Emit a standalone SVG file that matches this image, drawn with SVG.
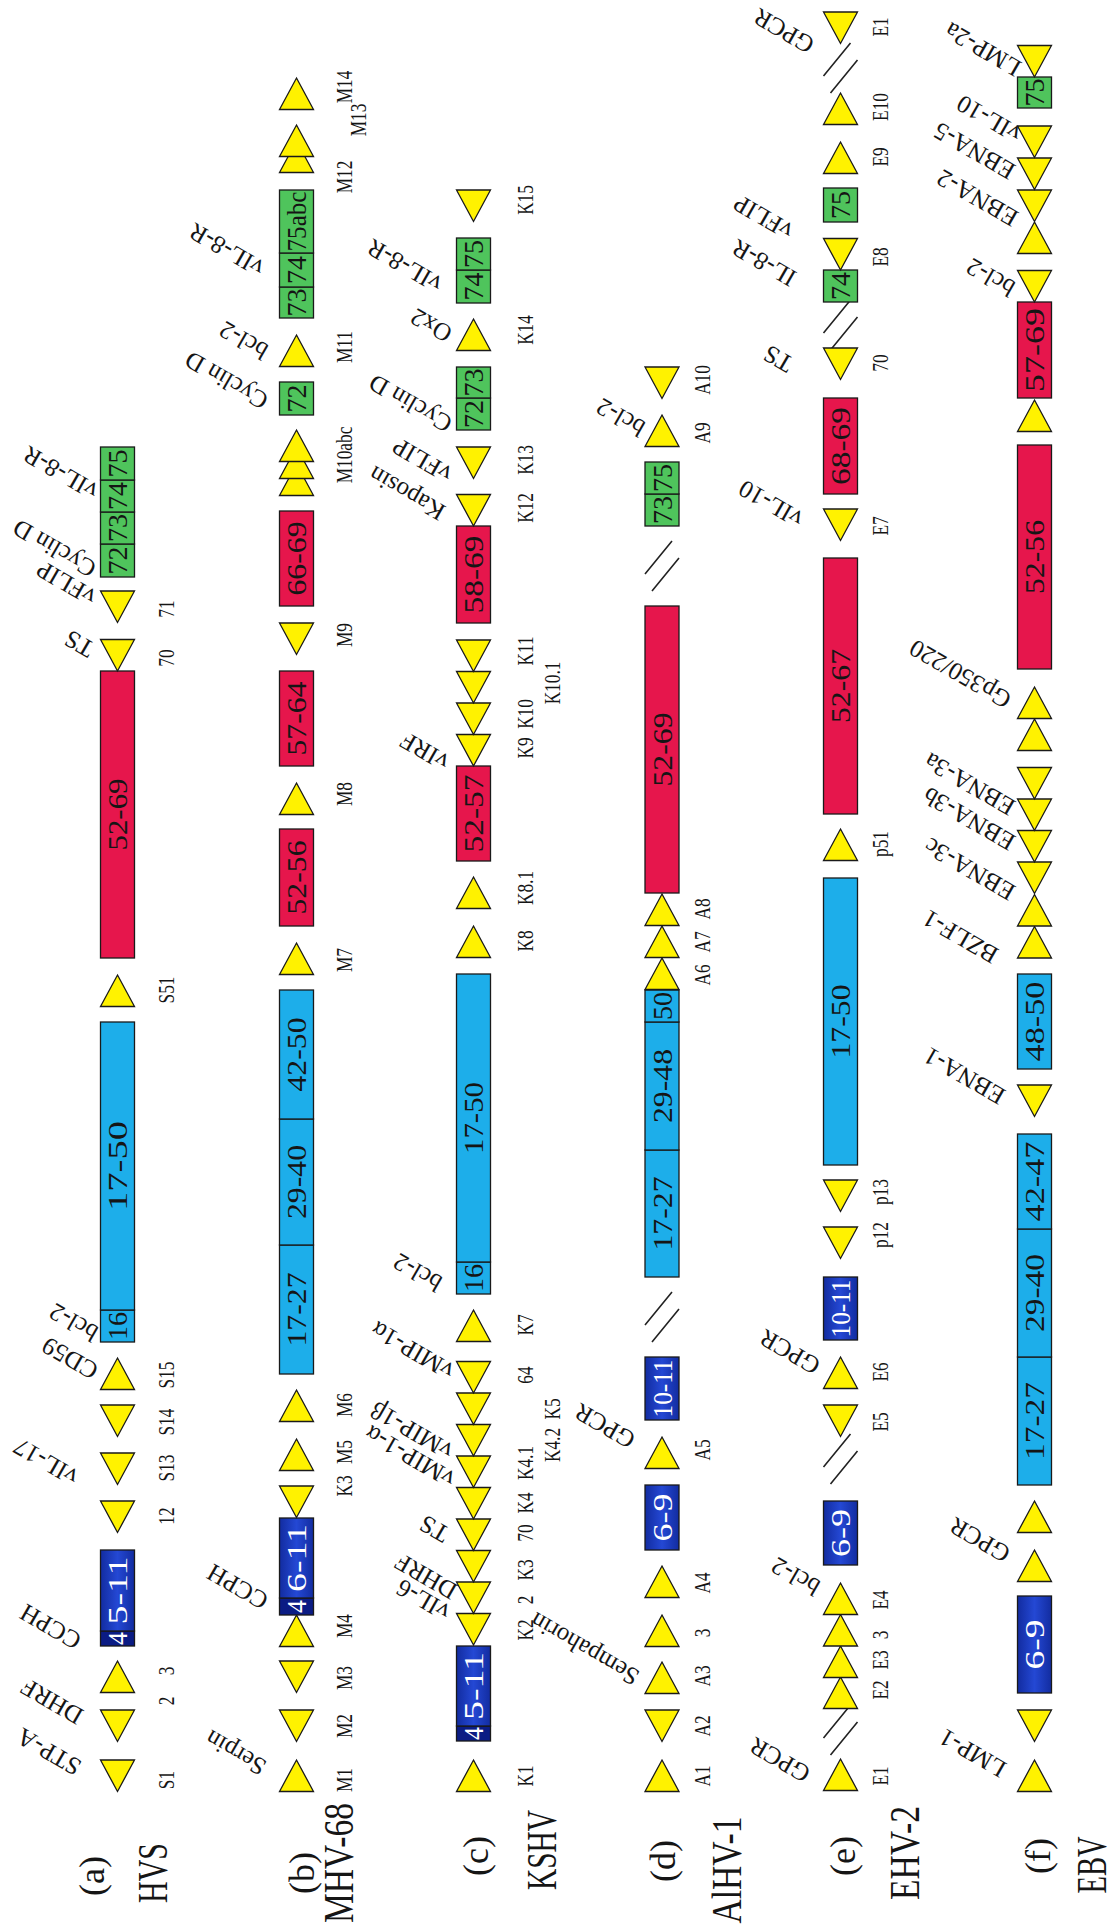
<svg xmlns="http://www.w3.org/2000/svg" width="1112" height="1925" viewBox="0 0 1112 1925">
<defs>
<style>
text{font-family:"Liberation Serif","Times New Roman",serif;fill:#151515}
.s{font-size:24px;text-anchor:middle}
.g{font-size:25px}
.b{font-size:28px;text-anchor:middle}
.w{fill:#ffffff}
.n{font-size:42px;text-anchor:middle}
.p{font-size:36px;text-anchor:middle}
.tri{fill:#FFF200;stroke:#1a1a1a;stroke-width:1.3;stroke-linejoin:miter}
.r{fill:#E6164C;stroke:#1a1a1a;stroke-width:1.3}
.c{fill:#1DAEEA;stroke:#1a1a1a;stroke-width:1.3}
.gr{fill:#4FC45C;stroke:#1a1a1a;stroke-width:1.3}
.d{fill:url(#gd);stroke:#1a1a1a;stroke-width:1.3}
.dn{fill:#0B1C84;stroke:#1a1a1a;stroke-width:1.3}
.brk{stroke:#222;stroke-width:1.6;fill:none}
</style>
<linearGradient id="gd" x1="0" y1="0" x2="1" y2="0">
<stop offset="0" stop-color="#122CA0"/><stop offset="0.5" stop-color="#2448D4"/><stop offset="1" stop-color="#122CA0"/>
</linearGradient>
<polygon id="U" class="tri" points="0,0 17,31.5 -17,31.5"/>
<polygon id="D" class="tri" points="-17,0 17,0 0,31.5"/>
</defs>
<rect width="1112" height="1925" fill="#ffffff"/>

<g id="row-labels">
<text class="p" transform="translate(104,1876) rotate(-90)">(a)</text>
<text class="n" transform="translate(167,1873) rotate(-90)" textLength="60" lengthAdjust="spacingAndGlyphs">HVS</text>
<text class="p" transform="translate(314,1873) rotate(-90)">(b)</text>
<text class="n" transform="translate(353,1863) rotate(-90)" textLength="120" lengthAdjust="spacingAndGlyphs">MHV-68</text>
<text class="p" transform="translate(488,1856) rotate(-90)">(c)</text>
<text class="n" transform="translate(556,1850) rotate(-90)" textLength="80" lengthAdjust="spacingAndGlyphs">KSHV</text>
<text class="p" transform="translate(675,1861) rotate(-90)">(d)</text>
<text class="n" transform="translate(741,1870) rotate(-90)" textLength="107" lengthAdjust="spacingAndGlyphs">AlHV-1</text>
<text class="p" transform="translate(855,1856) rotate(-90)">(e)</text>
<text class="n" transform="translate(919,1853) rotate(-90)" textLength="94" lengthAdjust="spacingAndGlyphs">EHV-2</text>
<text class="p" transform="translate(1050,1856) rotate(-90)">(f)</text>
<text class="n" transform="translate(1106,1865) rotate(-90)" textLength="57" lengthAdjust="spacingAndGlyphs">EBV</text>
</g>

<g id="breaks">
<path class="brk" d="M645,1325 L672,1292 M652,1342 L679,1309"/>
<path class="brk" d="M645,574 L672,541 M652,591 L679,558"/>
<path class="brk" d="M823.5,1738 L850.5,1705 M830.5,1755 L857.5,1722"/>
<path class="brk" d="M823.5,1467 L850.5,1434 M830.5,1484 L857.5,1451"/>
<path class="brk" d="M823.5,333 L850.5,300 M830.5,350 L857.5,317"/>
<path class="brk" d="M823.5,76 L850.5,43 M830.5,93 L857.5,60"/>
</g>

<!-- Row (a) HVS -->
<g id="row-a">
<g id="a-S1"><use href="#D" x="117.5" y="1760"/><text class="s" transform="translate(174,1780) rotate(-90) scale(0.72,1)">S1</text><text class="g" transform="translate(83,1762) rotate(-150)">STP-A</text></g>
<g id="a-2"><use href="#D" x="117.5" y="1710"/><text class="s" transform="translate(174,1701) rotate(-90) scale(0.72,1)">2</text><text class="g" transform="translate(85,1711) rotate(-150)">DHRF</text></g>
<g id="a-3"><use href="#U" x="117.5" y="1661"/><text class="s" transform="translate(174,1671) rotate(-90) scale(0.72,1)">3</text></g>
<g id="a-4-11"><rect class="dn" x="100.5" y="1631" width="34" height="15"/><rect class="d" x="100.5" y="1550" width="34" height="81"/><text class="b w" transform="translate(127,1638.5) rotate(-90)" textLength="13" lengthAdjust="spacingAndGlyphs">4</text><text class="b w" transform="translate(127,1590.5) rotate(-90)" textLength="68" lengthAdjust="spacingAndGlyphs">5-11</text><text class="g" transform="translate(83,1636) rotate(-150)">CCPH</text></g>
<g id="a-12"><use href="#D" x="117.5" y="1501"/><text class="s" transform="translate(174,1516) rotate(-90) scale(0.72,1)">12</text></g>
<g id="a-S13"><use href="#D" x="117.5" y="1453"/><text class="s" transform="translate(174,1468) rotate(-90) scale(0.72,1)">S13</text><text class="g" transform="translate(80,1472) rotate(-150)">vIL-17</text></g>
<g id="a-S14"><use href="#D" x="117.5" y="1405"/><text class="s" transform="translate(174,1422) rotate(-90) scale(0.72,1)">S14</text></g>
<g id="a-S15"><use href="#U" x="117.5" y="1358"/><text class="s" transform="translate(174,1375) rotate(-90) scale(0.72,1)">S15</text><text class="g" transform="translate(100,1366) rotate(-150)">CD59</text></g>
<g id="a-16-50"><rect class="c" x="100.5" y="1310" width="34" height="32"/><rect class="c" x="100.5" y="1022" width="34" height="288"/><text class="b" transform="translate(127,1326) rotate(-90)" textLength="28" lengthAdjust="spacingAndGlyphs">16</text><text class="b" transform="translate(127,1166) rotate(-90)" textLength="90" lengthAdjust="spacingAndGlyphs">17-50</text><text class="g" transform="translate(100,1328) rotate(-150)">bcl-2</text></g>
<g id="a-S51"><use href="#U" x="117.5" y="975"/><text class="s" transform="translate(174,990) rotate(-90) scale(0.72,1)">S51</text></g>
<g id="a-52-69"><rect class="r" x="100.5" y="671" width="34" height="287"/><text class="b" transform="translate(127,814.5) rotate(-90)" textLength="72" lengthAdjust="spacingAndGlyphs">52-69</text></g>
<g id="a-70"><use href="#D" x="117.5" y="639.5"/><text class="s" transform="translate(174,658) rotate(-90) scale(0.72,1)">70</text><text class="g" transform="translate(96,644) rotate(-150)">TS</text></g>
<g id="a-71"><use href="#D" x="117.5" y="591"/><text class="s" transform="translate(174,609) rotate(-90) scale(0.72,1)">71</text><text class="g" transform="translate(98,592) rotate(-150)">vFLIP</text></g>
<g id="a-72-75"><rect class="gr" x="100.5" y="544" width="34" height="33"/><rect class="gr" x="100.5" y="512" width="34" height="32"/><rect class="gr" x="100.5" y="480" width="34" height="32"/><rect class="gr" x="100.5" y="447" width="34" height="33"/>
<text class="b" transform="translate(127,560.5) rotate(-90)" textLength="28" lengthAdjust="spacingAndGlyphs">72</text><text class="b" transform="translate(127,528) rotate(-90)" textLength="28" lengthAdjust="spacingAndGlyphs">73</text><text class="b" transform="translate(127,496) rotate(-90)" textLength="28" lengthAdjust="spacingAndGlyphs">74</text><text class="b" transform="translate(127,463.5) rotate(-90)" textLength="28" lengthAdjust="spacingAndGlyphs">75</text>
<text class="g" transform="translate(98,564) rotate(-150)">Cyclin D</text><text class="g" transform="translate(100,486) rotate(-150)">vIL-8-R</text></g>
</g>

<!-- Row (b) MHV-68 -->
<g id="row-b">
<g id="b-M1"><use href="#U" x="296.5" y="1760"/><text class="s" transform="translate(352,1780) rotate(-90) scale(0.72,1)">M1</text><text class="g" transform="translate(268,1762) rotate(-150)">Serpin</text></g>
<g id="b-M2"><use href="#D" x="296.5" y="1710"/><text class="s" transform="translate(352,1726) rotate(-90) scale(0.72,1)">M2</text></g>
<g id="b-M3"><use href="#D" x="296.5" y="1661"/><text class="s" transform="translate(352,1678) rotate(-90) scale(0.72,1)">M3</text></g>
<g id="b-M4"><use href="#U" x="296.5" y="1615"/><text class="s" transform="translate(352,1626) rotate(-90) scale(0.72,1)">M4</text></g>
<g id="b-4-11"><rect class="dn" x="279.5" y="1598" width="34" height="17"/><rect class="d" x="279.5" y="1518" width="34" height="80"/><text class="b w" transform="translate(306,1606.5) rotate(-90)" textLength="13" lengthAdjust="spacingAndGlyphs">4</text><text class="b w" transform="translate(306,1558) rotate(-90)" textLength="68" lengthAdjust="spacingAndGlyphs">6-11</text><text class="g" transform="translate(270,1596) rotate(-150)">CCPH</text></g>
<g id="b-K3"><use href="#D" x="296.5" y="1486"/><text class="s" transform="translate(352,1486) rotate(-90) scale(0.72,1)">K3</text></g>
<g id="b-M5"><use href="#U" x="296.5" y="1439"/><text class="s" transform="translate(352,1452) rotate(-90) scale(0.72,1)">M5</text></g>
<g id="b-M6"><use href="#U" x="296.5" y="1390"/><text class="s" transform="translate(352,1405) rotate(-90) scale(0.72,1)">M6</text></g>
<g id="b-17-50"><rect class="c" x="279.5" y="1245" width="34" height="129"/><rect class="c" x="279.5" y="1119" width="34" height="126"/><rect class="c" x="279.5" y="990" width="34" height="129"/>
<text class="b" transform="translate(306,1309.5) rotate(-90)" textLength="74" lengthAdjust="spacingAndGlyphs">17-27</text><text class="b" transform="translate(306,1182) rotate(-90)" textLength="74" lengthAdjust="spacingAndGlyphs">29-40</text><text class="b" transform="translate(306,1054.5) rotate(-90)" textLength="74" lengthAdjust="spacingAndGlyphs">42-50</text></g>
<g id="b-M7"><use href="#U" x="296.5" y="943"/><text class="s" transform="translate(352,960) rotate(-90) scale(0.72,1)">M7</text></g>
<g id="b-52-56"><rect class="r" x="279.5" y="829" width="34" height="97"/><text class="b" transform="translate(306,877.5) rotate(-90)" textLength="74" lengthAdjust="spacingAndGlyphs">52-56</text></g>
<g id="b-M8"><use href="#U" x="296.5" y="783"/><text class="s" transform="translate(352,794) rotate(-90) scale(0.72,1)">M8</text></g>
<g id="b-57-64"><rect class="r" x="279.5" y="671" width="34" height="95"/><text class="b" transform="translate(306,718.5) rotate(-90)" textLength="74" lengthAdjust="spacingAndGlyphs">57-64</text></g>
<g id="b-M9"><use href="#D" x="296.5" y="623"/><text class="s" transform="translate(352,635) rotate(-90) scale(0.72,1)">M9</text></g>
<g id="b-66-69"><rect class="r" x="279.5" y="511" width="34" height="95"/><text class="b" transform="translate(306,558.5) rotate(-90)" textLength="74" lengthAdjust="spacingAndGlyphs">66-69</text></g>
<g id="b-M10abc"><use href="#U" x="296.5" y="464"/><use href="#U" x="296.5" y="447"/><use href="#U" x="296.5" y="430"/><text class="s" transform="translate(352,455) rotate(-90) scale(0.72,1)">M10abc</text></g>
<g id="b-72"><rect class="gr" x="279.5" y="382" width="34" height="33"/><text class="b" transform="translate(306,398.5) rotate(-90)" textLength="28" lengthAdjust="spacingAndGlyphs">72</text><text class="g" transform="translate(270,396) rotate(-150)">Cyclin D</text></g>
<g id="b-M11"><use href="#U" x="296.5" y="335"/><text class="s" transform="translate(352,347) rotate(-90) scale(0.72,1)">M11</text><text class="g" transform="translate(270,346) rotate(-150)">bcl-2</text></g>
<g id="b-73-75"><rect class="gr" x="279.5" y="287" width="34" height="31"/><rect class="gr" x="279.5" y="253" width="34" height="34"/><rect class="gr" x="279.5" y="190" width="34" height="63"/>
<text class="b" transform="translate(306,302.5) rotate(-90)" textLength="28" lengthAdjust="spacingAndGlyphs">73</text><text class="b" transform="translate(306,270) rotate(-90)" textLength="28" lengthAdjust="spacingAndGlyphs">74</text><text class="b" transform="translate(306,221.5) rotate(-90)" textLength="60" lengthAdjust="spacingAndGlyphs">75abc</text>
<text class="g" transform="translate(266,263) rotate(-150)">vIL-8-R</text></g>
<g id="b-M12-M13"><use href="#U" x="296.5" y="141"/><use href="#U" x="296.5" y="125"/><text class="s" transform="translate(352,177) rotate(-90) scale(0.72,1)">M12</text><text class="s" transform="translate(366,120) rotate(-90) scale(0.72,1)">M13</text></g>
<g id="b-M14"><use href="#U" x="296.5" y="78"/><text class="s" transform="translate(352,87) rotate(-90) scale(0.72,1)">M14</text></g>
</g>

<!-- Row (c) KSHV -->
<g id="row-c">
<g id="c-K1"><use href="#U" x="473.5" y="1760"/><text class="s" transform="translate(533,1776) rotate(-90) scale(0.72,1)">K1</text></g>
<g id="c-4-11"><rect class="dn" x="456.5" y="1726" width="34" height="15"/><rect class="d" x="456.5" y="1646" width="34" height="80"/><text class="b w" transform="translate(483,1733.5) rotate(-90)" textLength="13" lengthAdjust="spacingAndGlyphs">4</text><text class="b w" transform="translate(483,1686) rotate(-90)" textLength="68" lengthAdjust="spacingAndGlyphs">5-11</text></g>
<g id="c-K2"><use href="#D" x="473.5" y="1613.5"/><text class="s" transform="translate(533,1630) rotate(-90) scale(0.72,1)">K2</text><text class="g" transform="translate(452,1607) rotate(-150)">vIL-6</text></g>
<g id="c-2"><use href="#D" x="473.5" y="1582"/><text class="s" transform="translate(533,1600) rotate(-90) scale(0.72,1)">2</text><text class="g" transform="translate(459,1586) rotate(-150)">DHRF</text></g>
<g id="c-K3"><use href="#D" x="473.5" y="1550.5"/><text class="s" transform="translate(533,1570) rotate(-90) scale(0.72,1)">K3</text></g>
<g id="c-70"><use href="#D" x="473.5" y="1519"/><text class="s" transform="translate(533,1533) rotate(-90) scale(0.72,1)">70</text><text class="g" transform="translate(451,1529) rotate(-150)">TS</text></g>
<g id="c-K4"><use href="#D" x="473.5" y="1487.5"/><text class="s" transform="translate(533,1503) rotate(-90) scale(0.72,1)">K4</text><text class="g" transform="translate(457,1474) rotate(-150)">vMIP-1-α</text></g>
<g id="c-K4.1"><use href="#D" x="473.5" y="1456"/><text class="s" transform="translate(533,1463) rotate(-90) scale(0.72,1)">K4.1</text><text class="g" transform="translate(455,1446) rotate(-150)">vMIP-1β</text></g>
<g id="c-K4.2"><use href="#D" x="473.5" y="1424.5"/><text class="s" transform="translate(560,1445) rotate(-90) scale(0.72,1)">K4.2</text></g>
<g id="c-K5"><use href="#D" x="473.5" y="1393"/><text class="s" transform="translate(560,1409) rotate(-90) scale(0.72,1)">K5</text></g>
<g id="c-64"><use href="#D" x="473.5" y="1361.5"/><text class="s" transform="translate(533,1375) rotate(-90) scale(0.72,1)">64</text><text class="g" transform="translate(456,1366) rotate(-150)">vMIP-1α</text></g>
<g id="c-K7"><use href="#U" x="473.5" y="1310"/><text class="s" transform="translate(533,1325) rotate(-90) scale(0.72,1)">K7</text></g>
<g id="c-16-50"><rect class="c" x="456.5" y="1262" width="34" height="32"/><rect class="c" x="456.5" y="974" width="34" height="288"/><text class="b" transform="translate(483,1278) rotate(-90)" textLength="28" lengthAdjust="spacingAndGlyphs">16</text><text class="b" transform="translate(483,1118) rotate(-90)" textLength="72" lengthAdjust="spacingAndGlyphs">17-50</text><text class="g" transform="translate(444,1278) rotate(-150)">bcl-2</text></g>
<g id="c-K8"><use href="#U" x="473.5" y="926"/><text class="s" transform="translate(533,941) rotate(-90) scale(0.72,1)">K8</text></g>
<g id="c-K8.1"><use href="#U" x="473.5" y="877"/><text class="s" transform="translate(533,888) rotate(-90) scale(0.72,1)">K8.1</text></g>
<g id="c-52-57"><rect class="r" x="456.5" y="766" width="34" height="95"/><text class="b" transform="translate(483,813.5) rotate(-90)" textLength="78" lengthAdjust="spacingAndGlyphs">52-57</text></g>
<g id="c-K9"><use href="#D" x="473.5" y="734.5"/><text class="s" transform="translate(533,748) rotate(-90) scale(0.72,1)">K9</text><text class="g" transform="translate(451,757) rotate(-150)">vIRF</text></g>
<g id="c-K10"><use href="#D" x="473.5" y="703"/><text class="s" transform="translate(533,714) rotate(-90) scale(0.72,1)">K10</text></g>
<g id="c-K10.1"><use href="#D" x="473.5" y="671.5"/><text class="s" transform="translate(560,683) rotate(-90) scale(0.72,1)">K10.1</text></g>
<g id="c-K11"><use href="#D" x="473.5" y="640"/><text class="s" transform="translate(533,651) rotate(-90) scale(0.72,1)">K11</text></g>
<g id="c-58-69"><rect class="r" x="456.5" y="526" width="34" height="97"/><text class="b" transform="translate(483,574.5) rotate(-90)" textLength="78" lengthAdjust="spacingAndGlyphs">58-69</text></g>
<g id="c-K12"><use href="#D" x="473.5" y="494.5"/><text class="s" transform="translate(533,508) rotate(-90) scale(0.72,1)">K12</text><text class="g" transform="translate(447,507) rotate(-150)">Kaposin</text></g>
<g id="c-K13"><use href="#D" x="473.5" y="447"/><text class="s" transform="translate(533,460) rotate(-90) scale(0.72,1)">K13</text><text class="g" transform="translate(454,469) rotate(-150)">vFLIP</text></g>
<g id="c-72-73"><rect class="gr" x="456.5" y="398" width="34" height="32"/><rect class="gr" x="456.5" y="367" width="34" height="31"/><text class="b" transform="translate(483,414) rotate(-90)" textLength="28" lengthAdjust="spacingAndGlyphs">72</text><text class="b" transform="translate(483,382.5) rotate(-90)" textLength="28" lengthAdjust="spacingAndGlyphs">73</text><text class="g" transform="translate(454,419) rotate(-150)">Cyclin D</text></g>
<g id="c-K14"><use href="#U" x="473.5" y="319"/><text class="s" transform="translate(533,330) rotate(-90) scale(0.72,1)">K14</text><text class="g" transform="translate(454,329) rotate(-150)">Ox2</text></g>
<g id="c-74-75"><rect class="gr" x="456.5" y="270" width="34" height="33"/><rect class="gr" x="456.5" y="238" width="34" height="32"/><text class="b" transform="translate(483,286.5) rotate(-90)" textLength="28" lengthAdjust="spacingAndGlyphs">74</text><text class="b" transform="translate(483,254) rotate(-90)" textLength="28" lengthAdjust="spacingAndGlyphs">75</text><text class="g" transform="translate(444,279) rotate(-150)">vIL-8-R</text></g>
<g id="c-K15"><use href="#D" x="473.5" y="190"/><text class="s" transform="translate(533,200) rotate(-90) scale(0.72,1)">K15</text></g>
</g>

<!-- Row (d) AlHV-1 -->
<g id="row-d">
<g id="d-A1"><use href="#U" x="662" y="1760"/><text class="s" transform="translate(710,1776) rotate(-90) scale(0.72,1)">A1</text></g>
<g id="d-A2"><use href="#D" x="662" y="1710"/><text class="s" transform="translate(710,1726) rotate(-90) scale(0.72,1)">A2</text></g>
<g id="d-A3"><use href="#U" x="662" y="1662"/><text class="s" transform="translate(710,1676) rotate(-90) scale(0.72,1)">A3</text><text class="g" transform="translate(641,1672) rotate(-150)">Sempahorin</text></g>
<g id="d-3"><use href="#U" x="662" y="1615"/><text class="s" transform="translate(710,1633) rotate(-90) scale(0.72,1)">3</text></g>
<g id="d-A4"><use href="#U" x="662" y="1566"/><text class="s" transform="translate(710,1583) rotate(-90) scale(0.72,1)">A4</text></g>
<g id="d-6-9"><rect class="d" x="645" y="1485" width="34" height="65"/><text class="b w" transform="translate(671.5,1517.5) rotate(-90)" textLength="48" lengthAdjust="spacingAndGlyphs">6-9</text></g>
<g id="d-A5"><use href="#U" x="662" y="1437"/><text class="s" transform="translate(710,1450) rotate(-90) scale(0.72,1)">A5</text><text class="g" transform="translate(637,1435) rotate(-150)">GPCR</text></g>
<g id="d-10-11"><rect class="d" x="645" y="1357" width="34" height="63"/><text class="b w" transform="translate(671.5,1388.5) rotate(-90)" textLength="58" lengthAdjust="spacingAndGlyphs">10-11</text></g>
<g id="d-17-50"><rect class="c" x="645" y="1150" width="34" height="127"/><rect class="c" x="645" y="1022" width="34" height="128"/><rect class="c" x="645" y="990" width="34" height="32"/>
<text class="b" transform="translate(671.5,1213.5) rotate(-90)" textLength="74" lengthAdjust="spacingAndGlyphs">17-27</text><text class="b" transform="translate(671.5,1086) rotate(-90)" textLength="74" lengthAdjust="spacingAndGlyphs">29-48</text><text class="b" transform="translate(671.5,1006) rotate(-90)" textLength="28" lengthAdjust="spacingAndGlyphs">50</text></g>
<g id="d-A6-A8"><use href="#U" x="662" y="958"/><use href="#U" x="662" y="926"/><use href="#U" x="662" y="894"/>
<text class="s" transform="translate(710,975) rotate(-90) scale(0.72,1)">A6</text><text class="s" transform="translate(710,942) rotate(-90) scale(0.72,1)">A7</text><text class="s" transform="translate(710,909) rotate(-90) scale(0.72,1)">A8</text></g>
<g id="d-52-69"><rect class="r" x="645" y="606" width="34" height="287"/><text class="b" transform="translate(671.5,749.5) rotate(-90)" textLength="74" lengthAdjust="spacingAndGlyphs">52-69</text></g>
<g id="d-73-75"><rect class="gr" x="645" y="494" width="34" height="32"/><rect class="gr" x="645" y="462" width="34" height="32"/><text class="b" transform="translate(671.5,510) rotate(-90)" textLength="28" lengthAdjust="spacingAndGlyphs">73</text><text class="b" transform="translate(671.5,478) rotate(-90)" textLength="28" lengthAdjust="spacingAndGlyphs">75</text></g>
<g id="d-A9"><use href="#U" x="662" y="415"/><text class="s" transform="translate(710,433) rotate(-90) scale(0.72,1)">A9</text><text class="g" transform="translate(647,423) rotate(-150)">bcl-2</text></g>
<g id="d-A10"><use href="#D" x="662" y="367"/><text class="s" transform="translate(710,380) rotate(-90) scale(0.72,1)">A10</text></g>
</g>

<!-- Row (e) EHV-2 -->
<g id="row-e">
<g id="e-E1"><use href="#U" x="840.5" y="1759"/><text class="s" transform="translate(888,1776) rotate(-90) scale(0.72,1)">E1</text><text class="g" transform="translate(812,1769) rotate(-150)">GPCR</text></g>
<g id="e-E2"><use href="#U" x="840.5" y="1677"/><text class="s" transform="translate(888,1690) rotate(-90) scale(0.72,1)">E2</text></g>
<g id="e-E3"><use href="#U" x="840.5" y="1646"/><text class="s" transform="translate(888,1660) rotate(-90) scale(0.72,1)">E3</text></g>
<g id="e-3"><use href="#U" x="840.5" y="1614.5"/><text class="s" transform="translate(888,1635) rotate(-90) scale(0.72,1)">3</text></g>
<g id="e-E4"><use href="#U" x="840.5" y="1583"/><text class="s" transform="translate(888,1600) rotate(-90) scale(0.72,1)">E4</text><text class="g" transform="translate(822,1582) rotate(-150)">bcl-2</text></g>
<g id="e-6-9"><rect class="d" x="823.5" y="1501" width="34" height="64"/><text class="b w" transform="translate(850,1533) rotate(-90)" textLength="48" lengthAdjust="spacingAndGlyphs">6-9</text></g>
<g id="e-E5"><use href="#D" x="840.5" y="1405"/><text class="s" transform="translate(888,1422) rotate(-90) scale(0.72,1)">E5</text></g>
<g id="e-E6"><use href="#U" x="840.5" y="1357"/><text class="s" transform="translate(888,1372) rotate(-90) scale(0.72,1)">E6</text><text class="g" transform="translate(822,1361) rotate(-150)">GPCR</text></g>
<g id="e-10-11"><rect class="d" x="823.5" y="1277" width="34" height="63"/><text class="b w" transform="translate(850,1308.5) rotate(-90)" textLength="58" lengthAdjust="spacingAndGlyphs">10-11</text></g>
<g id="e-p12"><use href="#D" x="840.5" y="1227"/><text class="s" transform="translate(888,1235) rotate(-90) scale(0.72,1)">p12</text></g>
<g id="e-p13"><use href="#D" x="840.5" y="1180"/><text class="s" transform="translate(888,1192) rotate(-90) scale(0.72,1)">p13</text></g>
<g id="e-17-50"><rect class="c" x="823.5" y="878" width="34" height="287"/><text class="b" transform="translate(850,1021.5) rotate(-90)" textLength="74" lengthAdjust="spacingAndGlyphs">17-50</text></g>
<g id="e-p51"><use href="#U" x="840.5" y="829"/><text class="s" transform="translate(888,844) rotate(-90) scale(0.72,1)">p51</text></g>
<g id="e-52-67"><rect class="r" x="823.5" y="558" width="34" height="256"/><text class="b" transform="translate(850,686) rotate(-90)" textLength="74" lengthAdjust="spacingAndGlyphs">52-67</text></g>
<g id="e-E7"><use href="#D" x="840.5" y="509"/><text class="s" transform="translate(888,526) rotate(-90) scale(0.72,1)">E7</text><text class="g" transform="translate(805,514) rotate(-150)">vIL-10</text></g>
<g id="e-68-69"><rect class="r" x="823.5" y="398" width="34" height="96"/><text class="b" transform="translate(850,446) rotate(-90)" textLength="78" lengthAdjust="spacingAndGlyphs">68-69</text></g>
<g id="e-70"><use href="#D" x="840.5" y="348"/><text class="s" transform="translate(888,363) rotate(-90) scale(0.72,1)">70</text><text class="g" transform="translate(795,359) rotate(-150)">TS</text></g>
<g id="e-74"><rect class="gr" x="823.5" y="270" width="34" height="32"/><text class="b" transform="translate(850,286) rotate(-90)" textLength="28" lengthAdjust="spacingAndGlyphs">74</text><text class="g" transform="translate(798,273) rotate(-150)">IL-8-R</text></g>
<g id="e-E8"><use href="#D" x="840.5" y="238.5"/><text class="s" transform="translate(888,257) rotate(-90) scale(0.72,1)">E8</text><text class="g" transform="translate(795,226) rotate(-150)">vFLIP</text></g>
<g id="e-75"><rect class="gr" x="823.5" y="188" width="34" height="34"/><text class="b" transform="translate(850,205) rotate(-90)" textLength="28" lengthAdjust="spacingAndGlyphs">75</text></g>
<g id="e-E9"><use href="#U" x="840.5" y="142"/><text class="s" transform="translate(888,157) rotate(-90) scale(0.72,1)">E9</text></g>
<g id="e-E10"><use href="#U" x="840.5" y="93"/><text class="s" transform="translate(888,107) rotate(-90) scale(0.72,1)">E10</text></g>
<g id="e-E1b"><use href="#D" x="840.5" y="12"/><text class="s" transform="translate(888,27) rotate(-90) scale(0.72,1)">E1</text><text class="g" transform="translate(816,40) rotate(-150)">GPCR</text></g>
</g>

<!-- Row (f) EBV -->
<g id="row-f">
<g id="f-LMP1"><use href="#U" x="1034.5" y="1760"/><text class="g" transform="translate(1008,1764) rotate(-150)">LMP-1</text></g>
<g id="f-t2"><use href="#D" x="1034.5" y="1710"/></g>
<g id="f-6-9"><rect class="d" x="1017.5" y="1596" width="34" height="97"/><text class="b w" transform="translate(1044,1644.5) rotate(-90)" textLength="50" lengthAdjust="spacingAndGlyphs">6-9</text></g>
<g id="f-GPCR"><use href="#U" x="1034.5" y="1550"/><text class="g" transform="translate(1012,1549) rotate(-150)">GPCR</text></g>
<g id="f-t5"><use href="#U" x="1034.5" y="1501"/></g>
<g id="f-17-47"><rect class="c" x="1017.5" y="1357" width="34" height="128"/><rect class="c" x="1017.5" y="1229" width="34" height="128"/><rect class="c" x="1017.5" y="1134" width="34" height="95"/>
<text class="b" transform="translate(1044,1421) rotate(-90)" textLength="78" lengthAdjust="spacingAndGlyphs">17-27</text><text class="b" transform="translate(1044,1293) rotate(-90)" textLength="78" lengthAdjust="spacingAndGlyphs">29-40</text><text class="b" transform="translate(1044,1181.5) rotate(-90)" textLength="80" lengthAdjust="spacingAndGlyphs">42-47</text></g>
<g id="f-EBNA1"><use href="#D" x="1034.5" y="1085"/><text class="g" transform="translate(1007,1091) rotate(-150)">EBNA-1</text></g>
<g id="f-48-50"><rect class="c" x="1017.5" y="974" width="34" height="95"/><text class="b" transform="translate(1044,1021.5) rotate(-90)" textLength="80" lengthAdjust="spacingAndGlyphs">48-50</text></g>
<g id="f-BZLF1"><use href="#U" x="1034.5" y="926.5"/><text class="g" transform="translate(1000,950) rotate(-150)">BZLF-1</text></g>
<g id="f-t10"><use href="#U" x="1034.5" y="894.5"/></g>
<g id="f-EBNA3c"><use href="#D" x="1034.5" y="862"/><text class="g" transform="translate(1017,887) rotate(-150)">EBNA-3c</text></g>
<g id="f-EBNA3b"><use href="#D" x="1034.5" y="830.5"/><text class="g" transform="translate(1017,837) rotate(-150)">EBNA-3b</text></g>
<g id="f-EBNA3a"><use href="#D" x="1034.5" y="799"/><text class="g" transform="translate(1017,802) rotate(-150)">EBNA-3a</text></g>
<g id="f-t14"><use href="#D" x="1034.5" y="767.5"/></g>
<g id="f-t15"><use href="#U" x="1034.5" y="719"/></g>
<g id="f-Gp350"><use href="#U" x="1034.5" y="687"/><text class="g" transform="translate(1013,695) rotate(-150)">Gp350/220</text></g>
<g id="f-52-56"><rect class="r" x="1017.5" y="445" width="34" height="224"/><text class="b" transform="translate(1044,557) rotate(-90)" textLength="74" lengthAdjust="spacingAndGlyphs">52-56</text></g>
<g id="f-t18"><use href="#U" x="1034.5" y="400"/></g>
<g id="f-57-69"><rect class="r" x="1017.5" y="302" width="34" height="96"/><text class="b" transform="translate(1044,350) rotate(-90)" textLength="84" lengthAdjust="spacingAndGlyphs">57-69</text></g>
<g id="f-bcl2"><use href="#D" x="1034.5" y="270.5"/><text class="g" transform="translate(1017,283) rotate(-150)">bcl-2</text></g>
<g id="f-t21"><use href="#U" x="1034.5" y="222"/></g>
<g id="f-EBNA2"><use href="#D" x="1034.5" y="190"/><text class="g" transform="translate(1020,213) rotate(-150)">EBNA-2</text></g>
<g id="f-EBNA5"><use href="#D" x="1034.5" y="158"/><text class="g" transform="translate(1017,166) rotate(-150)">EBNA-5</text></g>
<g id="f-vIL10"><use href="#D" x="1034.5" y="126"/><text class="g" transform="translate(1023,129) rotate(-150)">vIL-10</text></g>
<g id="f-75"><rect class="gr" x="1017.5" y="77" width="34" height="31"/><text class="b" transform="translate(1044,92.5) rotate(-90)" textLength="28" lengthAdjust="spacingAndGlyphs">75</text></g>
<g id="f-LMP2a"><use href="#D" x="1034.5" y="45.5"/><text class="g" transform="translate(1023,63) rotate(-150)">LMP-2a</text></g>
</g>
</svg>
